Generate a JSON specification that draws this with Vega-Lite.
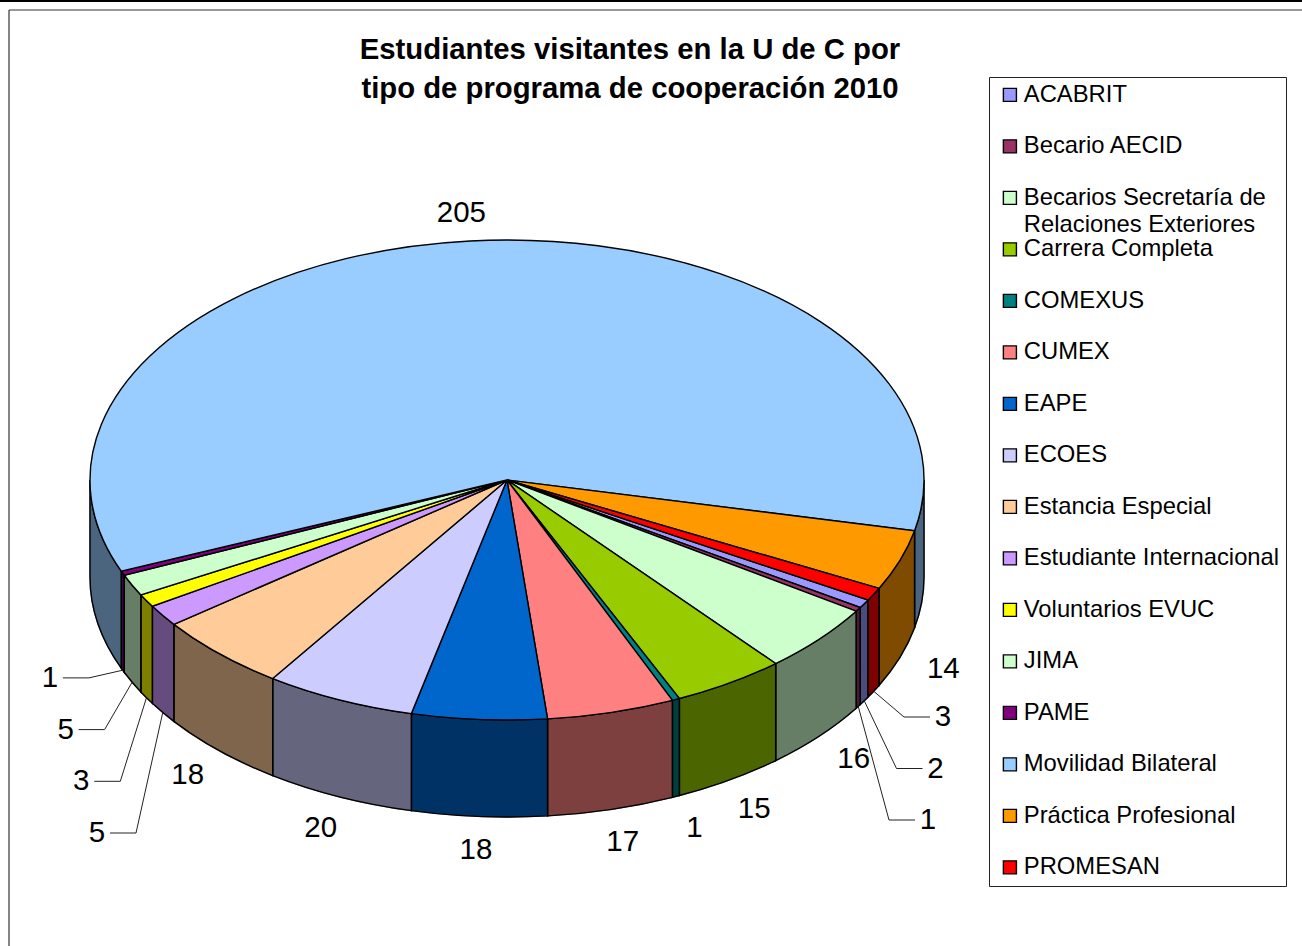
{
"$schema":"https://vega.github.io/schema/vega-lite/v6.json",
"width":1302,"height":946,"padding":0,"autosize":{"type":"none"},"background":"white",
"view":{"stroke":null},
"config":{"axis":{"disable":true}},
"title":{"text":["Estudiantes visitantes en la U de C por","tipo de programa de cooperación 2010"],"font":"Liberation Sans","fontWeight":"bold","fontSize":29.3,"lineHeight":39,"color":"black","anchor":"middle","align":"center","baseline":"top","dx":-21,"offset":-104},
"data":{"values":[
{"programa":"ACABRIT","valor":2,"orden":0},
{"programa":"Becario AECID","valor":1,"orden":1},
{"programa":"Becarios Secretaría de Relaciones Exteriores","valor":16,"orden":2},
{"programa":"Carrera Completa","valor":15,"orden":3},
{"programa":"COMEXUS","valor":1,"orden":4},
{"programa":"CUMEX","valor":17,"orden":5},
{"programa":"EAPE","valor":18,"orden":6},
{"programa":"ECOES","valor":20,"orden":7},
{"programa":"Estancia Especial","valor":18,"orden":8},
{"programa":"Estudiante Internacional","valor":5,"orden":9},
{"programa":"Voluntarios EVUC","valor":3,"orden":10},
{"programa":"JIMA","valor":5,"orden":11},
{"programa":"PAME","valor":1,"orden":12},
{"programa":"Movilidad Bilateral","valor":205,"orden":13},
{"programa":"Práctica Profesional","valor":14,"orden":14},
{"programa":"PROMESAN","valor":3,"orden":15}
]},
"transform":[
{"joinaggregate":[{"op":"sum","field":"valor","as":"total"}]},
{"stack":"valor","groupby":[],"sort":[{"field":"orden","order":"ascending"}],"as":["s0","s1"]},
{"calculate":"120+datum.s0*360/datum.total","as":"a0"},
{"calculate":"120+datum.s1*360/datum.total","as":"a1"},
{"calculate":"(datum.a0+datum.a1)/2","as":"m"},
{"calculate":"round(41700*sin(datum.a0*PI/180))/100","as":"x0"},
{"calculate":"round(-24000*cos(datum.a0*PI/180))/100","as":"y0"},
{"calculate":"round(41700*sin(datum.a1*PI/180))/100","as":"x1"},
{"calculate":"round(-24000*cos(datum.a1*PI/180))/100","as":"y1"},
{"calculate":"'M0,0L'+datum.x0+','+datum.y0+'A417,240 0 '+(datum.a1-datum.a0>180?1:0)+' 1 '+datum.x1+','+datum.y1+'Z'","as":"cara"},
{"calculate":"max(datum.a0,90)","as":"b0"},
{"calculate":"min(datum.a1,270)","as":"b1"},
{"calculate":"max(datum.a0,450)","as":"c0"},
{"calculate":"min(datum.a1,630)","as":"c1"},
{"calculate":"datum.b1>datum.b0?'M'+round(41700*sin(datum.b0*PI/180))/100+','+round(-24000*cos(datum.b0*PI/180))/100+'A417,240 0 0 1 '+round(41700*sin(datum.b1*PI/180))/100+','+round(-24000*cos(datum.b1*PI/180))/100+'L'+round(41700*sin(datum.b1*PI/180))/100+','+(round(-24000*cos(datum.b1*PI/180))/100+97)+'A417,240 0 0 0 '+round(41700*sin(datum.b0*PI/180))/100+','+(round(-24000*cos(datum.b0*PI/180))/100+97)+'Z':''","as":"w1"},
{"calculate":"datum.c1>datum.c0?'M'+round(41700*sin(datum.c0*PI/180))/100+','+round(-24000*cos(datum.c0*PI/180))/100+'A417,240 0 0 1 '+round(41700*sin(datum.c1*PI/180))/100+','+round(-24000*cos(datum.c1*PI/180))/100+'L'+round(41700*sin(datum.c1*PI/180))/100+','+(round(-24000*cos(datum.c1*PI/180))/100+97)+'A417,240 0 0 0 '+round(41700*sin(datum.c0*PI/180))/100+','+(round(-24000*cos(datum.c0*PI/180))/100+97)+'Z':''","as":"w2"},
{"calculate":"datum.w1+datum.w2","as":"pared"},
{"calculate":"(datum.orden>=9&&datum.orden<=12)?'L':(((datum.orden+1)%16)<=2?'R':'N')","as":"lado"},
{"calculate":"datum.orden-9","as":"rl"},
{"calculate":"(datum.orden+1)%16","as":"rr"},
{"calculate":"sin(datum.m*PI/180)","as":"sm"},
{"calculate":"cos(datum.m*PI/180)","as":"cm"},
{"calculate":"datum.lado=='L'?-410-15.7*datum.rl:(datum.lado=='R'?436-7.5*datum.rr:(datum.cm>0?517:463)*datum.sm)","as":"lx"},
{"calculate":"datum.lado=='L'?353-51.7*datum.rl:(datum.lado=='R'?237+51.5*datum.rr:(datum.cm>0?-268*datum.cm:-274*datum.cm+97*min(1,-3.1*datum.cm)))","as":"ly"},
{"calculate":"datum.lado=='L'?'M'+(datum.lx+13)+','+datum.ly+'L'+(datum.lx+39)+','+datum.ly+'L'+(round(41700*datum.sm)/100)+','+(round(-24000*datum.cm)/100+97):(datum.lado=='R'?'M'+(datum.lx-13)+','+datum.ly+'L'+(datum.lx-39)+','+datum.ly+'L'+(round(41700*datum.sm)/100)+','+(round(-24000*datum.cm)/100+97):'')","as":"guia"}
],
"layer":[
{"data":{"values":[{"k":1}]},"mark":{"type":"rule","color":"black","strokeWidth":2},"encoding":{"x":{"datum":-507,"type":"quantitative","scale":{"domain":[-507,795],"nice":false,"zero":false}},"x2":{"datum":795},"y":{"datum":-479,"type":"quantitative","scale":{"domain":[-480,466],"reverse":true,"nice":false,"zero":false}}}},
{"data":{"values":[{"k":1}]},"mark":{"type":"rule","color":"#333333","strokeWidth":1.2},"encoding":{"x":{"datum":-498,"type":"quantitative"},"x2":{"datum":795},"y":{"datum":-470,"type":"quantitative"}}},
{"data":{"values":[{"k":1}]},"mark":{"type":"rule","color":"#333333","strokeWidth":1.2},"encoding":{"x":{"datum":-498,"type":"quantitative"},"y":{"datum":-470,"type":"quantitative"},"y2":{"datum":466}}},
{"transform":[{"filter":"datum.pared!=''"}],"mark":{"type":"point","filled":true,"opacity":1,"size":4,"stroke":"black","strokeWidth":1.4},
"encoding":{"x":{"datum":0,"type":"quantitative"},"y":{"datum":0,"type":"quantitative"},"shape":{"field":"pared","type":"nominal","scale":null},"color":{"field":"programa","type":"nominal"}}},
{"transform":[{"filter":"datum.pared!=''"}],"mark":{"type":"point","filled":true,"opacity":0.5,"size":4,"color":"black","stroke":"black","strokeWidth":1.4},
"encoding":{"x":{"datum":0,"type":"quantitative"},"y":{"datum":0,"type":"quantitative"},"shape":{"field":"pared","type":"nominal","scale":null}}},
{"mark":{"type":"point","filled":true,"opacity":1,"size":4,"stroke":"black","strokeWidth":1.4},
"encoding":{"x":{"datum":0,"type":"quantitative"},"y":{"datum":0,"type":"quantitative"},"shape":{"field":"cara","type":"nominal","scale":null},
"color":{"field":"programa","type":"nominal",
"scale":{"domain":["ACABRIT","Becario AECID","Becarios Secretaría de Relaciones Exteriores","Carrera Completa","COMEXUS","CUMEX","EAPE","ECOES","Estancia Especial","Estudiante Internacional","Voluntarios EVUC","JIMA","PAME","Movilidad Bilateral","Práctica Profesional","PROMESAN"],
"range":["#9999FF","#993366","#CCFFCC","#99CC00","#008080","#FF8080","#0066CC","#CCCCFF","#FFCC99","#CC99FF","#FFFF00","#CCFFCC","#800080","#99CCFF","#FF9900","#FF0000"]},
"legend":{"title":null,"orient":"none","legendX":989,"legendY":77,"fillColor":"white","strokeColor":"#222222","padding":6,"symbolType":"square","symbolSize":170,"symbolOffset":3,"symbolStrokeColor":"black","symbolStrokeWidth":1.4,"symbolOpacity":1,"labelFont":"Liberation Sans","labelFontSize":23.8,"labelColor":"black","labelLimit":400,"labelOffset":2,"gridAlign":"all","rowPadding":-0.5,"labelExpr":"datum.label=='Becarios Secretaría de Relaciones Exteriores'?['Becarios Secretaría de','Relaciones Exteriores']:datum.label","encoding":{"labels":{"lineHeight":{"value":27}}}}}}},
{"transform":[{"filter":"datum.guia!=''"}],"mark":{"type":"point","filled":false,"opacity":1,"size":4,"stroke":"#222222","strokeWidth":1,"fill":"transparent"},
"encoding":{"x":{"datum":0,"type":"quantitative"},"y":{"datum":0,"type":"quantitative"},"shape":{"field":"guia","type":"nominal","scale":null}}},
{"mark":{"type":"text","font":"Liberation Sans","fontSize":29.5,"color":"black","align":"center","baseline":"middle"},
"encoding":{"x":{"field":"lx","type":"quantitative"},"y":{"field":"ly","type":"quantitative"},"text":{"field":"valor","type":"quantitative"}}}
]
}
